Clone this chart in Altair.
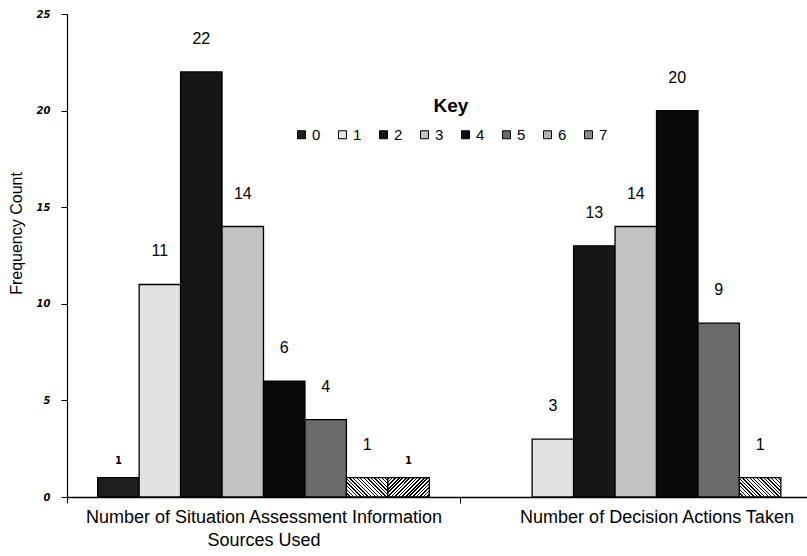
import altair as alt
import pandas as pd

# ---- data ----
categories = ["Number of Situation Assessment Information\nSources Used",
              "Number of Decision Actions Taken"]
keys = [0, 1, 2, 3, 4, 5, 6, 7]
situation_counts = [1, 11, 22, 14, 6, 4, 1, 1]
decision_counts = [0, 3, 13, 14, 20, 9, 1, 0]
y_ticks = [0, 5, 10, 15, 20, 25]

rows = []
for gi, (cat, vals) in enumerate(zip(categories, [situation_counts, decision_counts])):
    for k, v in zip(keys, vals):
        rows.append({"group": gi, "category": cat, "key": k, "count": v})
df = pd.DataFrame(rows)

# ---- styles ----
FONT = "Liberation Sans Narrow, Liberation Sans, Arial, sans-serif"
key_colors = ["#1e1e1e", "#e2e2e2", "#161616", "#c2c2c2", "#0a0a0a", "#6a6a6a", "#b4b4b4", "#8a8a8a"]


def hatch(x1, y1, x2, y2, n, frac):
    stops = []
    for i in range(n):
        a, b, c = i / n, (i + frac) / n, (i + 1) / n
        stops += [{"offset": a, "color": "black"}, {"offset": b, "color": "black"},
                  {"offset": b, "color": "white"}, {"offset": c, "color": "white"}]
    return {"gradient": "linear", "x1": x1, "y1": y1, "x2": x2, "y2": y2, "stops": stops}


hatch_back = hatch(0, 1, 1.205, 0.44, 17, 0.38)   # "\\\\" lines
hatch_fwd = hatch(0, 0, 1.205, 0.56, 17, 0.5)     # "////" lines

base = alt.Chart(df).encode(
    x=alt.X("category:N", sort=categories,
            scale=alt.Scale(range=[0, 786], paddingInner=0, paddingOuter=0),
            axis=alt.Axis(title=None, tickBand="extent", tickSize=6, tickColor="black",
                          domainColor="black", domainWidth=1.5, labelAngle=0,
                          labelFont=FONT, labelFontSize=18, labelColor="black",
                          labelLineHeight=23, labelPadding=5, labelLimit=0,
                          labelExpr="split(datum.label, '\\n')")),
    xOffset=alt.XOffset("key:N", scale=alt.Scale(paddingInner=0, paddingOuter=0.74)),
    y=alt.Y("count:Q", scale=alt.Scale(domain=[0, 25]),
            axis=alt.Axis(values=y_ticks, grid=False, tickSize=6, tickColor="black",
                          domainColor="black", domainWidth=1.2,
                          labelFont="DejaVu Sans", labelFontSize=10, labelFontWeight="bold",
                          labelFontStyle="italic", labelColor="black", labelPadding=11,
                          title="Frequency Count", titleFont=FONT, titleFontSize=16,
                          titleFontWeight="normal", titleColor="black",
                          titleX=-51, titleY=219, titleAngle=270,
                          titleAlign="center", titleBaseline="middle")),
)

bars = base.mark_bar(stroke="black", strokeWidth=1.3).encode(
    fill=alt.Fill(
        "key:N",
        scale=alt.Scale(domain=keys, range=key_colors),
        legend=alt.Legend(title="Key", orient="none", legendX=227, legendY=83,
                          direction="horizontal", columns=8, columnPadding=14,
                          symbolType="square", symbolSize=64, symbolStrokeColor="black",
                          symbolStrokeWidth=1, labelOffset=3, labelFont=FONT,
                          labelFontSize=15, labelColor="black",
                          titleFont=FONT, titleFontSize=19, titleFontWeight="bold",
                          titleColor="black", titleAnchor="middle", titlePadding=11),
        condition=[{"test": "datum.key === 6", "value": hatch_back},
                   {"test": "datum.key === 7", "value": hatch_fwd}],
    )
).transform_filter("datum.count > 0")

small_test = "datum.group === 0 && (datum.key === 0 || datum.key === 7)"

labels_big = base.mark_text(baseline="middle", dy=-33, font=FONT, fontSize=16,
                            color="black").encode(
    text="count:Q"
).transform_filter(f"datum.count > 0 && !({small_test})")

labels_small = base.mark_text(baseline="middle", dy=-17, font="DejaVu Sans", fontSize=10,
                              fontWeight="bold", color="black").encode(
    text="count:Q"
).transform_filter(f"datum.count > 0 && ({small_test})")

chart = alt.layer(bars, labels_big, labels_small).properties(
    width=740, height=483,
    autosize=alt.AutoSizeParams(type="none"),
    padding={"left": 67, "top": 14, "right": 0, "bottom": 59},
    background="white",
).configure_view(stroke=None)

chart.save("out.html", embed_options={"renderer": "svg", "actions": False})
